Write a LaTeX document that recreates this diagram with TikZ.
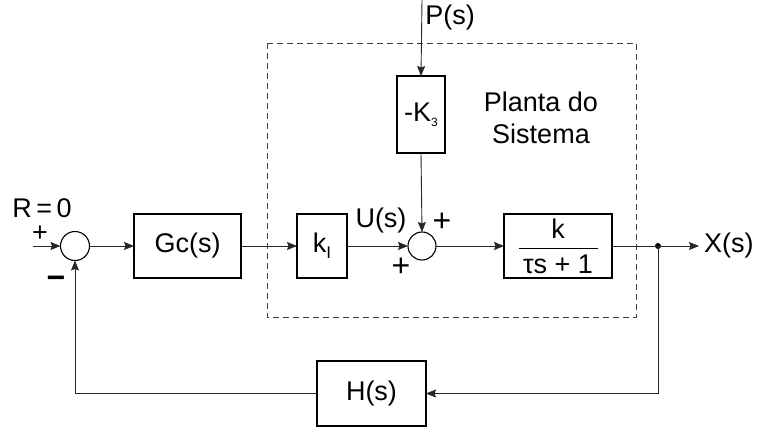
\documentclass[tikz,border=0pt]{standalone}
\usepackage{fontspec}
\setmainfont{Liberation Sans}
\usetikzlibrary{arrows.meta}
\begin{document}
\begin{tikzpicture}[x=1pt,y=-1pt,
  every node/.style={font=\fontsize{27}{32}\selectfont, inner sep=0pt, outer sep=0pt},
  blk/.style={draw, line width=1.3pt, minimum height=64pt},
  sumj/.style={draw, circle, line width=1.1pt, minimum size=29pt},
  conn/.style={line width=0.9pt, draw=black!85},
  arr/.style={conn, -{Stealth[length=10pt,width=8pt,inset=1.5pt]}},
  sgn/.style={font=\fontsize{32}{32}\selectfont}
]
\useasboundingbox (0,0) rectangle (763,428);

% plant boundary
\draw[dashed, dash pattern=on 6pt off 4pt, line width=0.8pt, draw=black!75] (267,43) rectangle (636,317);

% blocks
\node[sumj] (s1) at (75,246) {};
\node[blk, minimum width=107pt] (gc) at (187.5,246) {Gc(s)};
\node[blk, minimum width=50pt] (ki) at (322,246) {k\raisebox{-6pt}{\fontsize{17}{17}\selectfont I}};
\node[sumj, minimum size=28pt] (s2) at (422,246) {};
\node[blk, minimum width=48pt, minimum height=77pt] (k3) at (421,114.5) {-K\raisebox{-5pt}{\fontsize{12}{12}\selectfont 3}};
\node[blk, minimum width=108pt] (kb) at (558,246) {};
\node[blk, minimum width=109pt, minimum height=65pt] (h) at (371.5,393.5) {H(s)};

% fraction inside plant block
\node (num) at (558,229) {k};
\node (den) at (558,264) {τs + 1};
\draw[line width=1pt] (519,248) coordinate (fl) -- (598,248) coordinate (fr);

% junction
\fill (658,246) circle (3pt);
\coordinate (j) at (658,246);

% free ends
\coordinate (rin) at (33,246);
\coordinate (pin) at (422,0);
\coordinate (xout) at (699,246);

% connectors
\draw[arr] (rin) -- (s1.west);
\draw[arr] (s1.east) -- (gc.west);
\draw[arr] (gc.east) -- (ki.west);
\draw[arr] (ki.east) -- (s2.west);
\draw[arr] (pin) -- (k3.north);
\draw[arr] (k3.south) -- (s2.north);
\draw[arr] (s2.east) -- (kb.west);
\draw[conn] (kb.east) -- (j);
\draw[arr] (j) -- (xout);
\draw[arr] (j) |- (h.east);
\draw[arr] (h.west) -| (s1.south);

% labels
\node[font=\fontsize{27}{27}\selectfont] (r0) at (42,208) {R\,=\,0};
\node[font=\fontsize{27}{27}\selectfont] (p1) at (40,234) {+};
\node[font=\fontsize{32}{32}\selectfont\bfseries] (m1) at (56,282) {−};
\node (ps) at (450,18) {P(s)};
\node (us) at (381,221) {U(s)};
\node[sgn] (p2) at (442,222) {+};
\node[sgn] (p3) at (401,267) {+};
\node[anchor=west] (xs) at (704,246) {X(s)};
\node[align=center] (pl) at (541,118) {Planta do\\Sistema};
\end{tikzpicture}
\end{document}
